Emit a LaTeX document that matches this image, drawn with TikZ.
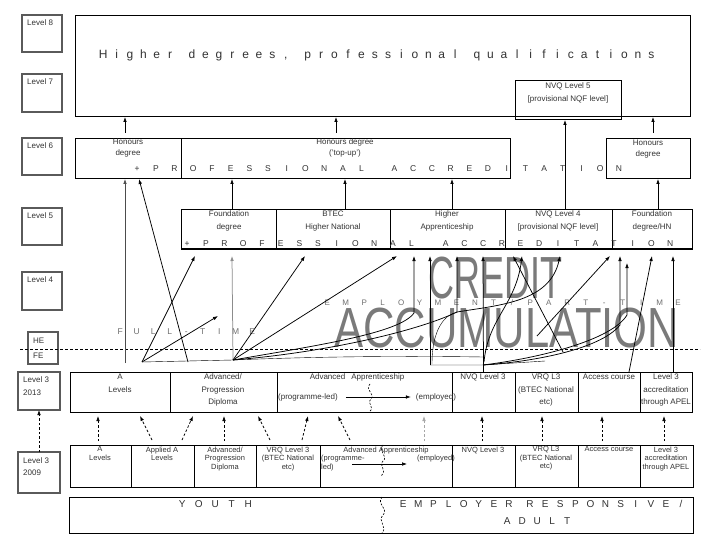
\documentclass[tikz,border=0pt]{standalone}
\usepackage{fontspec}
\usepackage{graphicx}
\setmainfont{Liberation Sans}
\usetikzlibrary{arrows.meta}
\newlength\cellw
\newlength\gapw
\makeatletter
\def\sprd#1{\sprd@#1\@nil}
\def\sprd@#1{\ifx#1\@nil\else\ifx#1|\hspace*{\gapw}\else\makebox[\cellw]{#1}\fi\expandafter\sprd@\fi}
\makeatother
\newcommand\spreadtext[3]{\setlength\cellw{#1}\setlength\gapw{#2}\sprd{#3}}
\definecolor{lvlgray}{HTML}{5A5A5A}
\definecolor{txtdark}{HTML}{333333}
\definecolor{txtgray}{HTML}{707070}
\definecolor{bigtxt}{HTML}{7A7A7A}
\tikzset{
  lvlbox/.style={draw=lvlgray, line width=1.3pt, inner sep=0pt, outer sep=0pt},
  rowbox/.style={draw=black, line width=0.8pt, inner sep=0pt, outer sep=0pt},
  lbltxt/.style={font=\fontsize{8}{12.5}\selectfont, text=txtdark, align=left, inner sep=0pt},
  rt/.style={font=\fontsize{8}{12.5}\selectfont, text=txtdark, align=center, inner sep=0pt, anchor=north},
  rtsix/.style={font=\fontsize{8}{10.5}\selectfont, text=txtdark, align=center, inner sep=0pt, anchor=north},
  rtfive/.style={font=\fontsize{8}{13}\selectfont, text=txtdark, align=center, inner sep=0pt, anchor=north},
  rtold/.style={font=\fontsize{7.5}{8.5}\selectfont, text=txtdark, align=center, inner sep=0pt, anchor=north},
  spr/.style={inner sep=0pt, anchor=base west},
  arr/.style={-{Latex[length=5pt,width=3.6pt]}, line width=0.75pt},
  darr/.style={-{Latex[length=5pt,width=3.6pt]}, line width=0.75pt, dash pattern=on 2.5pt off 2pt},
  wavy/.style={line width=0.6pt, dash pattern=on 2pt off 1.5pt},
}
\newcommand\lvlb[6]{\node[lvlbox, minimum width={(#4-#2)*1pt}, minimum height={(#5-#3)*1pt}] (#1) at ({(#2+#4)/2},{(#3+#5)/2}) {};
  \node[lbltxt, anchor=north west] (#1t) at ({#2+5},{#3+5}) {#6};}
\newcommand\rowb[5]{\node[rowbox, minimum width={(#4-#2)*1pt}, minimum height={(#5-#3)*1pt}] (#1) at ({(#2+#4)/2},{(#3+#5)/2}) {};}
\begin{document}
\begin{tikzpicture}[x=1pt,y=-1pt]
\useasboundingbox (0,0) rectangle (720,540);
\fill[white] (0,0) rectangle (720,540);

% ---------- level labels ----------
\lvlb{l8}{22}{15}{62}{52}{Level 8}
\lvlb{l7}{22}{74}{62}{112}{Level 7}
\lvlb{l6}{22}{138}{62}{175}{Level 6}
\lvlb{l5}{22}{208}{62}{245}{Level 5}
\lvlb{l4}{22}{272}{62}{310}{Level 4}
\node[lvlbox, minimum width=30pt, minimum height=32pt] (hefe) at (43,348) {};
\node[lbltxt, anchor=west] (he) at (33,341) {HE};
\node[lbltxt, anchor=west] (fe) at (33,356) {FE};
\lvlb{l3a}{18}{372}{60}{410}{Level 3\\2013}
\lvlb{l3b}{18}{452}{60}{493}{Level 3\\2009}

% ---------- big grey words (behind connectors) ----------
\node[inner sep=0pt, anchor=north west, text=bigtxt] (credit) at (428,257) {\resizebox{134pt}{41.5pt}{CREDIT}};
\node[inner sep=0pt, anchor=north west, text=bigtxt] (accum) at (334,307.5) {\resizebox{345pt}{39.5pt}{ACCUMULATION}};

% ---------- level 7/8 ----------
\rowb{top}{75}{15}{690}{116}
\node[spr, text=txtdark, font=\fontsize{12}{14}\selectfont] (toptxt) at (96.3,58.5) {\spreadtext{13.4pt}{8.5pt}{Higher|degrees,|professional|qualifications}};
\rowb{nvq5}{515}{80}{621}{119}
\node[rt] (nvq5t) at (568,83) {NVQ Level 5\\{}[provisional NQF level]};

% ---------- level 6 ----------
\rowb{hon}{75}{138}{181}{178}
\rowb{topup}{181}{138}{510}{178}
\rowb{honr}{606}{138}{690}{178}
\node[rtsix] at (128,139) {Honours\\degree};
\node[rtsix] at (345,139) {Honours degree\\('top-up')};
\node[rtsix] at (648,140) {Honours\\degree};
\node[spr, text=txtdark, font=\fontsize{8.5}{10}\selectfont] (pa6) at (127.6,171.5) {\spreadtext{18.7pt}{14.3pt}{+PROFESSIONAL|ACCREDITATION}};

% ---------- level 5 ----------
\rowb{fd}{181}{209}{276}{249}
\rowb{btec}{276}{209}{390}{249}
\rowb{ha}{390}{209}{505}{249}
\rowb{nvq4}{505}{209}{612}{249}
\rowb{fdhn}{612}{209}{692}{249}
\draw[line width=1.6pt] (fd.south west) -- (fdhn.south east);
\node[rtfive] at (229,211) {Foundation\\degree};
\node[rtfive] at (333,211) {BTEC\\Higher National};
\node[rtfive] at (447,211) {Higher\\Apprenticeship};
\node[rtfive] at (558,211) {NVQ Level 4\\{}[provisional NQF level]};
\node[rtfive] at (652,211) {Foundation\\degree/HN};
\node[spr, text=txtdark, font=\fontsize{8.5}{10}\selectfont] (pa5) at (177.6,246) {\spreadtext{18.7pt}{15.5pt}{+PROFESSIONAL|ACCREDITATION}};

% ---------- arrows between upper levels ----------
\draw[arr] (125,133) -- (125,117);
\draw[arr] (336,133) -- (336,117);
\draw[arr] (653,133) -- (653,117);
\draw[arr] (565,209) -- (565,120);
\draw[arr] (232,209) -- (232,179);
\draw[arr] (345,209) -- (345,179);
\draw[arr] (452,209) -- (452,179);
\draw[arr] (658,209) -- (658,179);

% ---------- stream labels ----------
\node[spr, text=txtgray, font=\fontsize{8.5}{10}\selectfont] (ft) at (111.75,334.5) {\spreadtext{16.5pt}{0pt}{FULL-TIME}};
\node[spr, text=txtgray, font=\fontsize{8}{10}\selectfont] (emp) at (317.8,305) {\spreadtext{18.47pt}{0pt}{EMPLOYMENT/PART-TIME}};

% ---------- HE/FE divide ----------
\draw[line width=0.7pt, dash pattern=on 3pt off 2pt] (20,349) coordinate (dl) -- (700,349) coordinate (dr);

% ---------- level 3 (2013) ----------
\rowb{al}{70}{372}{170}{412}
\rowb{apd}{170}{372}{277}{412}
\rowb{aa}{277}{372}{452}{412}
\rowb{nvq3}{452}{372}{515}{412}
\rowb{vrq}{515}{372}{578}{412}
\rowb{acc}{578}{372}{640}{412}
\rowb{apel}{640}{372}{692}{412}
\node[rt] at (120,374) {A\\Levels};
\node[rt] at (223,374) {Advanced/\\Progression\\Diploma};
\node[rt] at (357,374) {Advanced\hspace{6pt}Apprenticeship};
\node[rt, anchor=center] (pl13) at (308,397) {(programme-led)};
\node[rt, anchor=center] (em13) at (436,397) {(employed)};
\draw[arr, line width=0.6pt] (pl13.east) ++(8,0) -- ([xshift=-5pt]em13.west);
\draw[wavy] (370,384) .. controls (364,390) and (376,394) .. (371,399) .. controls (366,404) and (376,407) .. (369,412);
\node[rt] at (483,374) {NVQ Level 3};
\node[rt] at (546,374) {VRQ L3\\(BTEC National\\etc)};
\node[rt] at (609,374) {Access course};
\node[rt] at (666,374) {Level 3\\accreditation\\through APEL};

% ---------- level 3 (2009) ----------
\rowb{al9}{70}{445}{131}{487}
\rowb{aal9}{131}{445}{194}{487}
\rowb{apd9}{194}{445}{256}{487}
\rowb{vrq9}{256}{445}{320}{487}
\rowb{aa9}{320}{445}{452}{487}
\rowb{nvq39}{452}{445}{515}{487}
\rowb{vrql9}{515}{445}{578}{487}
\rowb{acc9}{578}{445}{640}{487}
\rowb{apel9}{640}{445}{693}{487}
\node[rtold] at (100,446.5) {A\\Levels};
\node[rtold] at (162,446.5) {Applied A\\Levels};
\node[rtold] at (225,446.5) {Advanced/\\Progression\\Diploma};
\node[rtold] at (288,446.5) {VRQ Level 3\\(BTEC National\\etc)};
\node[rtold] at (386,446.5) {Advanced Apprenticeship};
\node[rtold, anchor=north west, align=left] (pl09) at (321,455) {(programme-\\led)};
\node[rtold] (em09) at (436,455) {(employed)};
\draw[arr, line width=0.6pt] (352,464) -- (407,464);
\draw[wavy] (383,445) .. controls (377,451) and (389,456) .. (383,461) .. controls (378,466) and (388,470) .. (381,476);
\node[rtold] at (483,446.5) {NVQ Level 3};
\node[rtold] at (546,446.5) {VRQ L3\\(BTEC National\\etc)};
\node[rtold] at (609,446.5) {Access course};
\node[rtold] at (666,446.5) {Level 3\\accreditation\\through APEL};

% ---------- youth / adult ----------
\rowb{ya}{69}{497}{693}{533}
\node[spr, text=txtdark, font=\fontsize{10}{12}\selectfont] (youth) at (173.75,507) {\spreadtext{16.5pt}{0pt}{YOUTH}};
\node[spr, text=txtdark, font=\fontsize{10}{12}\selectfont] (empr) at (395.5,507) {\spreadtext{15.1pt}{6pt}{EMPLOYER|RESPONSIVE/}};
\node[spr, text=txtdark, font=\fontsize{10}{12}\selectfont] (adult) at (499.5,524) {\spreadtext{15pt}{0pt}{ADULT}};
\draw[wavy] (382,497) .. controls (376,504) and (389,509) .. (383,515) .. controls (377,521) and (388,527) .. (382,533);

% ---------- dashed arrows 2009 -> 2013 ----------
\draw[darr] (l3b.north) -- (l3a.south);
\draw[darr] (98,441) -- (98,416);
\draw[darr] (152,440) -- (140,416);
\draw[darr] (182,440) -- (193,416);
\draw[darr] (224,441) -- (224,416);
\draw[darr] (270,440) -- (258,416);
\draw[darr] (302,440) -- (308,416);
\draw[darr] (350,440) -- (338,416);
\draw[darr, draw=black!35] (424,441) -- (424,416);
\draw[darr] (482,441) -- (482,416);
\draw[darr] (542,441) -- (542,416);
\draw[darr] (602,441) -- (602,416);
\draw[darr] (664,441) -- (664,416);

% ---------- progression connectors ----------
\coordinate (P1) at (142,362);
\coordinate (P2) at (233,360);
\coordinate (H1) at (430,365);
\coordinate (H2) at (483,365);
\coordinate (K1) at (414,313);
\coordinate (K2) at (457,312);
\draw[arr, draw=black!70] (125,363) -- (125,179);
\draw[arr] (188,362) -- (139,179);
\draw[arr] (P1) -- (195,256);
\draw[arr] (P1) -- (218,316);
\draw (P1) -- (P2);
\draw[arr, draw=black!45] (P2) -- (232,256);
\draw[arr] (P2) -- (305,256);
\draw[arr] (P2) -- (397,256);
\draw[arr] (P2) .. controls (320,345) and (400,333) .. (K1) -- (414,256);
\draw[arr] (P2) .. controls (330,352) and (420,330) .. (K2) -- (457,256);
\draw (P2) .. controls (330,356) and (420,356) .. (483,357);
\draw (H1) -- (H2) -- (545,361);
\draw[arr] (H1) -- (430,256);
\draw[arr] (nvq3.north) -- (483,256);
\draw (432,364) .. controls (432,330) and (444,315) .. (K2);
\draw[arr] (484,362) .. controls (488,318) and (516,305) .. (522,256);
\draw[arr] (563,352) -- (513,256);
\draw[arr] (K2) .. controls (500,305) and (550,302) .. (560,256);
\draw[arr] (537,336) -- (610,256);
\draw[arr] (H2) .. controls (530,362) and (600,350) .. (620,325) -- (620,256);
\draw[arr] (H2) .. controls (540,358) and (612,340) .. (627,315) -- (627,263);
\draw[arr] (629,372) -- (652,256);
\draw[arr] (673,372) -- (673,256);
\end{tikzpicture}
\end{document}
